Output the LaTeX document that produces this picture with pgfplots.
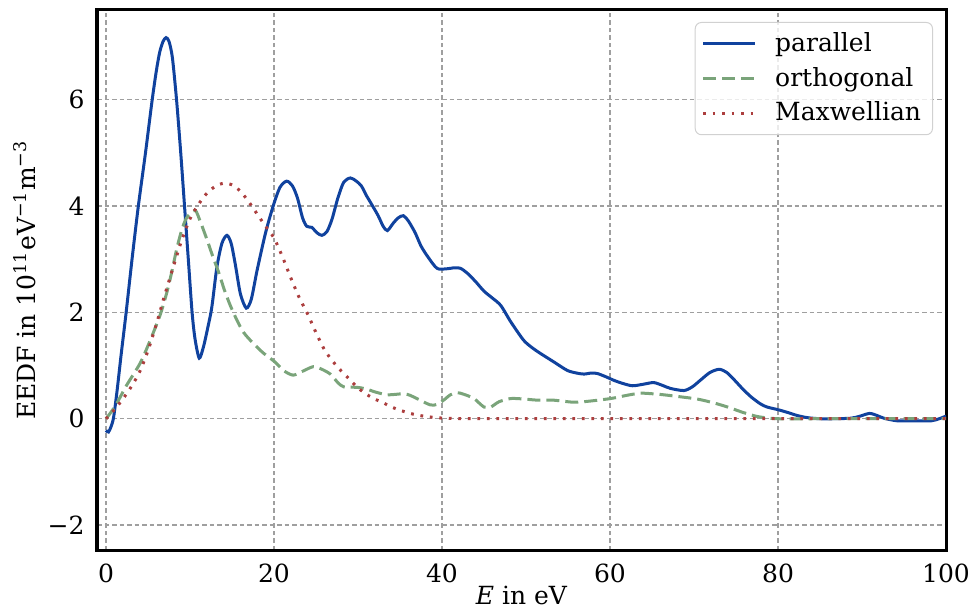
\documentclass[border=0pt]{standalone}
\usepackage{fontspec}
\setmainfont{DejaVu Serif}
\usepackage{pgfplots}
\pgfplotsset{compat=1.18}
\definecolor{cblue}{RGB}{16,66,158}
\definecolor{cgreen}{RGB}{122,164,122}
\definecolor{cred}{RGB}{172,62,62}
\begin{document}
\begin{tikzpicture}
\begin{axis}[
  scale only axis,
  width=339.6pt, height=216pt,
  xmin=-1.07, xmax=100, ymin=-2.47, ymax=7.69,
  xtick={0,20,40,60,80,100}, xticklabels={0,20,40,60,80,100},
  ytick={-2,0,2,4,6}, yticklabels={−2,0,2,4,6},
  major tick length=0pt,
  xticklabel style={inner xsep=0pt, yshift=-2pt},
  yticklabel style={xshift=-1.5pt},
  axis line style={line width=1.2pt},
  grid=major,
  grid style={gray!75, line width=0.5pt, dash pattern=on 1.8pt off 1.2pt},
  every axis x label/.style={at={(axis description cs:0.5,-0.0845)}, anchor=center, inner sep=0pt},
  every axis y label/.style={at={(axis description cs:-0.0854,0.5)}, anchor=center, rotate=90, inner sep=0pt},
  xlabel={\textit{E} in eV},
  ylabel={EEDF in 10\textsuperscript{11}eV\textsuperscript{−1}m\textsuperscript{−3}},
  legend cell align=left,
  legend style={at={(axis description cs:0.9847,0.9778)}, anchor=north east,
    draw=black!18, rounded corners=2.5pt, fill=white, fill opacity=0.8, text opacity=1,
    inner xsep=2.6pt, inner ysep=2pt, row sep=0.8pt, font=\normalsize},
  legend image code/.code={\draw[#1] (0pt,0pt) -- (20.7pt,0pt); \path (26.2pt,0pt);},
]
\addplot[cblue, line width=1.2pt, smooth, tension=0.45] coordinates {
(0,-0.22) (0.3,-0.25) (0.6,-0.15) (0.9,0.02) (1.3,0.5) (1.8,1.2) (2.4,2.0)
(3.1,3.0) (3.85,4.0) (4.7,5.0) (5.5,6.0) (6.0,6.55) (6.4,6.9) (6.8,7.1)
(7.15,7.17) (7.5,7.1) (7.9,6.8) (8.4,6.0) (8.9,5.0) (9.35,4.0) (9.8,3.0)
(10.25,2.0) (10.6,1.5) (11.1,1.14) (11.6,1.35) (12.1,1.7) (12.6,2.1)
(13.2,2.85) (13.8,3.3) (14.4,3.45) (14.9,3.3) (15.4,2.9) (16.0,2.35)
(16.7,2.08) (17.3,2.25) (18.0,2.8) (19.0,3.5) (19.9,4.0) (20.7,4.35)
(21.5,4.47) (22.2,4.38) (22.8,4.15) (23.4,3.78) (23.9,3.62) (24.5,3.6)
(25.1,3.5) (25.7,3.45) (26.3,3.52) (26.9,3.75) (27.6,4.15) (28.3,4.45)
(29.1,4.53) (29.8,4.47) (30.4,4.38) (31.0,4.2) (31.6,4.04) (32.4,3.82)
(33.0,3.62) (33.5,3.54) (34.2,3.68) (34.8,3.78) (35.4,3.82) (36.0,3.72)
(36.8,3.5) (37.5,3.25) (38.3,3.05) (39.4,2.83) (40.5,2.82) (41.5,2.84)
(42.2,2.83) (43.0,2.74) (44.0,2.58) (45.0,2.40) (46.0,2.27) (47.0,2.13)
(48.2,1.82) (49.7,1.48) (50.7,1.34) (51.7,1.23) (53.3,1.07) (54.9,0.91)
(56.0,0.86) (56.9,0.84) (57.8,0.86) (58.5,0.85) (59.5,0.79) (60.5,0.72)
(61.6,0.66) (62.7,0.62) (64.0,0.65) (65.2,0.68) (66.2,0.63) (67.2,0.57)
(68.8,0.53) (69.8,0.6) (70.8,0.73) (71.9,0.87) (73.0,0.93) (73.9,0.87)
(74.8,0.73) (75.8,0.56) (76.8,0.41) (77.9,0.28) (78.7,0.22) (80.0,0.17)
(81.1,0.12) (82.3,0.06) (83.5,0.02) (85.0,0.0) (86.7,0.0) (88.7,0.01)
(89.8,0.05) (90.9,0.1) (91.8,0.06) (92.6,0.01) (94.2,-0.04) (96.0,-0.04)
(98.2,-0.04) (99.2,0.0) (100,0.05)
};
\addlegendentry{parallel}
\addplot[cgreen, line width=1.2pt, smooth, tension=0.45, dash pattern=on 5.2pt off 2.4pt] coordinates {
(0,0.0) (1.07,0.23) (2.46,0.63) (4.05,1.04) (5.2,1.45) (6.44,1.95) (7.2,2.35)
(7.83,2.76) (8.4,3.18) (9.0,3.54) (9.6,3.78) (10.6,3.92) (11.2,3.72)
(12.0,3.38) (12.7,3.06) (13.4,2.76) (14.1,2.42) (14.8,2.13) (15.6,1.85)
(16.4,1.62) (17.4,1.44) (18.7,1.24) (20.1,1.07)
(21.2,0.9) (22.3,0.82) (23.5,0.9) (24.7,0.98) (25.7,0.93) (26.7,0.84)
(27.6,0.68) (28.3,0.6) (29.9,0.59) (31.0,0.56) (31.9,0.51) (33.5,0.45)
(35.4,0.47) (36.2,0.44) (37.0,0.38) (38.6,0.26) (39.4,0.27) (40.2,0.35)
(41.0,0.45) (41.8,0.49) (42.6,0.46) (43.8,0.38) (45.0,0.22) (45.8,0.22)
(46.8,0.32) (48.2,0.38) (49.8,0.37) (51.3,0.35) (53.2,0.35) (55.7,0.31)
(57.5,0.33) (60.1,0.38) (62.0,0.44) (63.6,0.48) (65.0,0.47) (66.4,0.45)
(68.5,0.41) (70.4,0.37) (72.3,0.3) (74.0,0.22) (75.8,0.12) (77.6,0.04)
(80.0,0.0) (85,0.0) (90,0.0) (95,0.0) (100,0.0)
};
\addlegendentry{orthogonal}
\addplot[cred, line width=1.2pt, smooth, tension=0.45, dash pattern=on 1.1pt off 2.7pt] coordinates {
(0,0) (1,0.17) (2,0.37) (3,0.6) (4,0.88) (5,1.28) (6,1.78) (7,2.33) (8,2.85)
(9,3.35) (10,3.76) (11,4.03) (12,4.24) (13,4.37) (14,4.43) (15,4.4) (16,4.28)
(17,4.08) (18,3.85) (19,3.62) (20,3.4) (21,3.05) (22,2.65) (23,2.28)
(24,1.97) (25,1.62) (26,1.3) (27,1.08) (28,0.9) (29,0.74) (30,0.58)
(31,0.46) (32,0.37) (33,0.3) (34,0.22) (35,0.16) (36,0.11) (37,0.07)
(38,0.045) (39,0.025) (40,0.012) (42,0.004) (45,0) (50,0) (60,0) (70,0)
(80,0) (90,0) (100,0)
};
\addlegendentry{Maxwellian}
\coordinate (tl) at (rel axis cs:0,1);
\coordinate (br) at (rel axis cs:1,0);
\end{axis}
\path ([xshift=-38.8pt,yshift=4pt]tl) rectangle ([xshift=9.6pt,yshift=-23.6pt]br);
\end{tikzpicture}
\end{document}
